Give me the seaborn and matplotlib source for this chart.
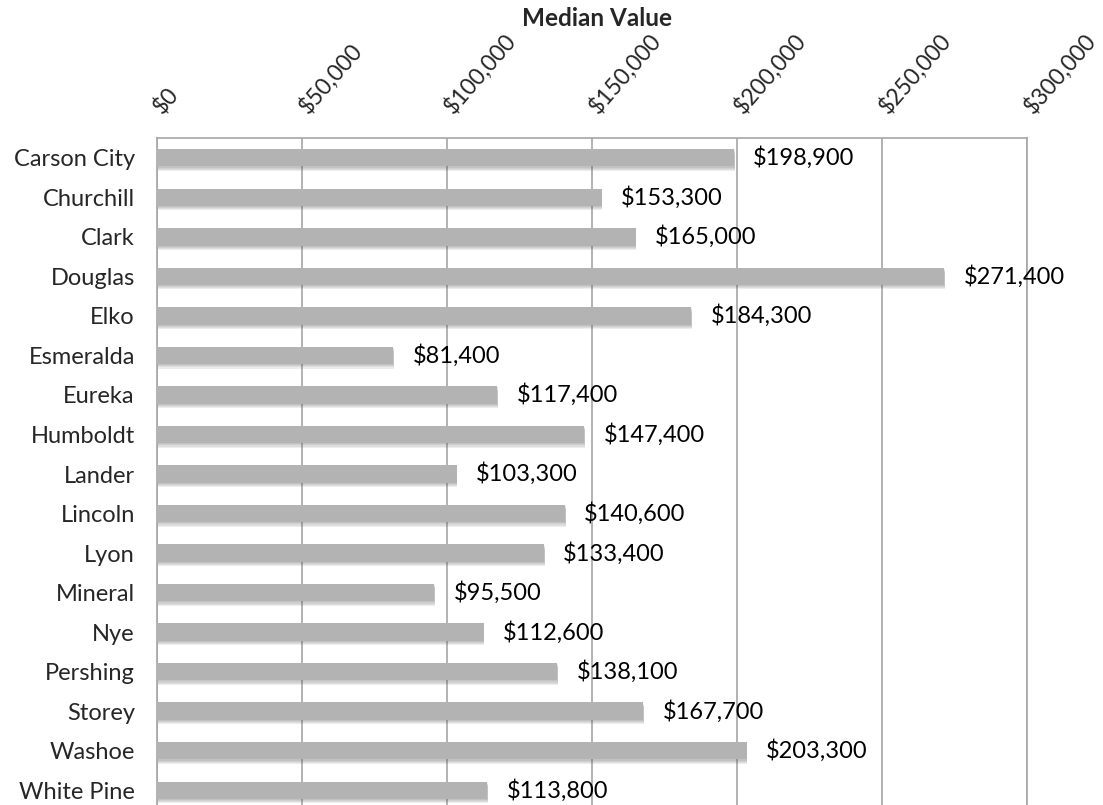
import matplotlib
matplotlib.use("Agg")
import matplotlib.pyplot as plt
import matplotlib.patheffects as pe
import matplotlib.transforms as mtransforms
from matplotlib.ticker import MultipleLocator
import seaborn as sns
import pandas as pd

counties = ["Carson City", "Churchill", "Clark", "Douglas", "Elko", "Esmeralda",
            "Eureka", "Humboldt", "Lander", "Lincoln", "Lyon", "Mineral", "Nye",
            "Pershing", "Storey", "Washoe", "White Pine"]
median_values = [198900, 153300, 165000, 271400, 184300, 81400, 117400, 147400,
                 103300, 140600, 133400, 95500, 112600, 138100, 167700, 203300, 113800]

df = pd.DataFrame({"County": counties, "Median Value": median_values})

sns.set_theme(style="white")
plt.rcParams["font.family"] = ["Lato", "DejaVu Sans"]

FS = 17

fig = plt.figure(figsize=(11.03, 8.05), dpi=100)
ax = fig.add_axes([157/1103, -5/805, 870/1103, 672/805])

sns.barplot(data=df, x="Median Value", y="County", orient="h", color="#b3b3b3",
            saturation=1, width=0.44, linewidth=0, ax=ax, zorder=3)

shadow = [pe.SimplePatchShadow(offset=(0.6, -k), shadow_rgbFace="#606060", alpha=0.11)
          for k in (3.2, 2.4, 1.6, 0.8)]
for p in ax.patches:
    p.set_linewidth(0)
    p.set_path_effects(shadow + [pe.Normal()])

ax.bar_label(ax.containers[0], labels=[f"${v:,.0f}" for v in median_values],
             padding=14, fontsize=FS, color="black")

ax.set_xlim(0, 300000)
ax.xaxis.set_major_locator(MultipleLocator(50000))
ax.xaxis.tick_top()
ax.grid(axis="x", color="#a6a6a6", linewidth=1.2, zorder=0)
ax.set_axisbelow(True)
ax.tick_params(axis="x", length=0, labeltop=False, labelbottom=False)
ax.tick_params(axis="y", length=0, pad=16, labelsize=FS)

# rotated x tick labels on top
trans = mtransforms.blended_transform_factory(ax.transData, ax.transAxes) + \
    mtransforms.ScaledTranslation(9/100, 20/100, fig.dpi_scale_trans)
for v in ax.get_xticks():
    if 0 <= v <= 300000:
        ax.text(v, 1, f"${v:,.0f}", transform=trans, rotation=49,
                rotation_mode="anchor", ha="left", va="bottom", fontsize=16.5,
                clip_on=False)

ax.set_ylabel("")
ax.set_xlabel("")
for s in ["top", "left", "right"]:
    ax.spines[s].set_visible(True)
    ax.spines[s].set_color("#a6a6a6")
    ax.spines[s].set_linewidth(1.2)
ax.spines["bottom"].set_visible(False)

fig.text(597/1103, 1 - 18/805, "Median Value", ha="center", va="center",
         fontsize=17.5, fontweight="bold")

fig.savefig("out.png", dpi=100)
